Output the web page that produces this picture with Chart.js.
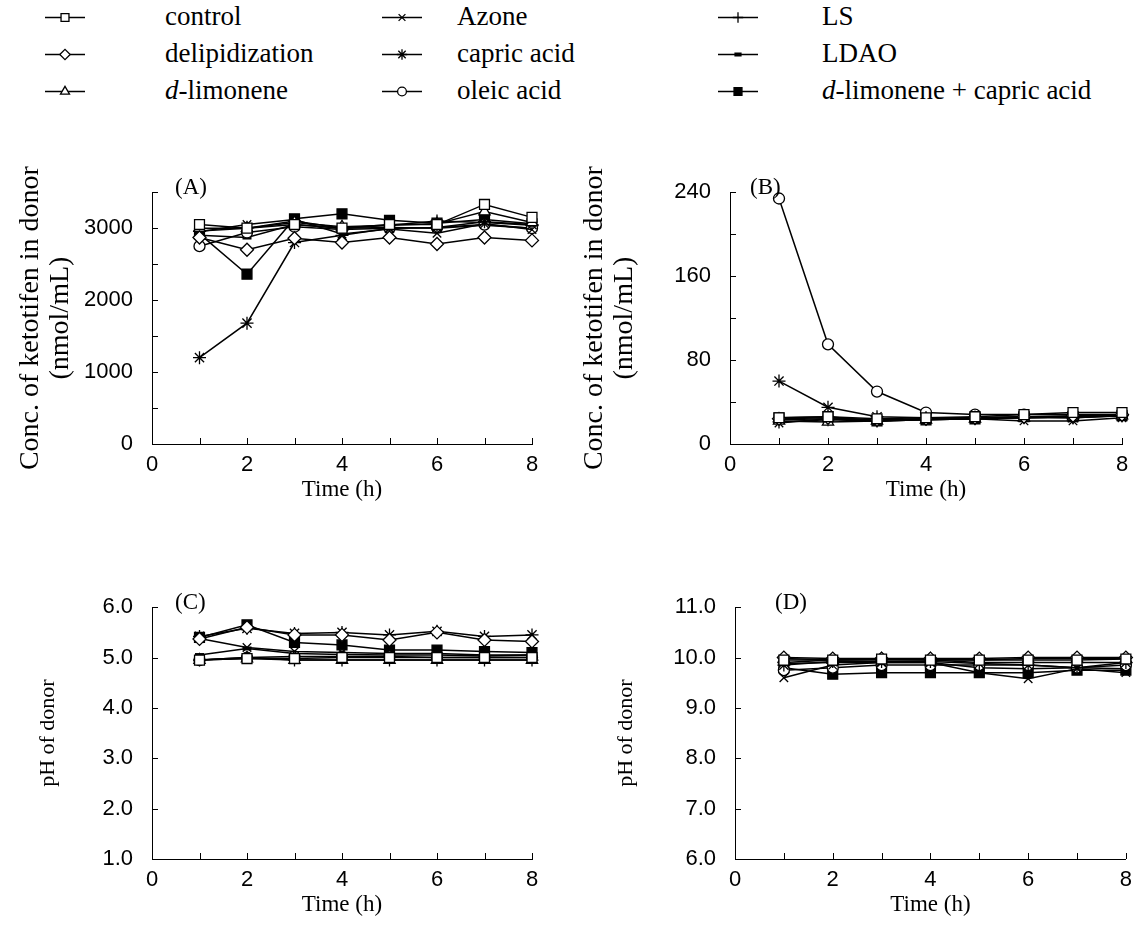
<!DOCTYPE html>
<html>
<head>
<meta charset="utf-8">
<script src="https://cdn.jsdelivr.net/npm/chart.js@4.4.0/dist/chart.umd.min.js"></script>
<style>
  body { margin: 0; background: #fff; width: 1140px; height: 942px; position: relative; overflow: hidden; font-family: "Liberation Serif", "Times New Roman", serif; }
  canvas { position: absolute; }
  .lbl { position: absolute; font-size: 27px; line-height: 27px; white-space: nowrap; }
</style>
</head>
<body>
<div id="legend"></div>
<canvas id="chartA" width="560" height="344" style="left:0;top:160px"></canvas>
<canvas id="chartB" width="570" height="344" style="left:570px;top:160px"></canvas>
<canvas id="chartC" width="560" height="344" style="left:0;top:575px"></canvas>
<canvas id="chartD" width="570" height="344" style="left:570px;top:575px"></canvas>
<script>
// sampling times (h)
const times = [1, 2, 3, 4, 5, 6, 7, 8];

// treatments, in legend order (column by column)
const treatments = ["control", "delipidization", "d-limonene", "Azone", "capric acid",
  "oleic acid", "LS", "LDAO", "d-limonene + capric acid"];

// (A) conc. of ketotifen in donor, nmol/mL, one row per treatment
const concA = [
  [3050, 3000, 3050, 3000, 3050, 3050, 3330, 3150],
  [2870, 2700, 2860, 2800, 2870, 2780, 2870, 2830],
  [3000, 3000, 3080, 3020, 3040, 3060, 3230, 3080],
  [2950, 3050, 3120, 2920, 2990, 2930, 3060, 2980],
  [1200, 1680, 2800, 2900, 3000, 3010, 3090, 3050],
  [2750, 2940, 3020, 2980, 3000, 3010, 3050, 3000],
  [2960, 3000, 3100, 3000, 3040, 3100, 3080, 3040],
  [2900, 2870, 3050, 3000, 3010, 3000, 3040, 3000],
  [2920, 2360, 3130, 3200, 3110, 3070, 3120, 3060]
];

// (B) conc. of ketotifen in donor, nmol/mL
const concB = [
  [25, 26, 24, 25, 26, 28, 30, 30],
  [24, 25, 23, 24, 25, 26, 27, 28],
  [22, 21, 22, 23, 24, 25, 26, 27],
  [20, 24, 22, 23, 24, 22, 22, 25],
  [60, 35, 26, 25, 25, 26, 25, 27],
  [234, 95, 50, 30, 28, 28, 28, 28],
  [21, 23, 22, 24, 24, 25, 25, 27],
  [23, 24, 22, 24, 24, 25, 26, 27],
  [25, 26, 22, 23, 24, 26, 26, 27]
];

// (C) pH of donor
const phC = [
  [4.95, 4.98, 4.98, 5.0, 5.0, 5.0, 5.0, 5.0],
  [5.37, 5.6, 5.45, 5.45, 5.35, 5.5, 5.35, 5.32],
  [4.95, 4.98, 4.95, 4.95, 4.95, 4.95, 4.95, 4.95],
  [5.38, 5.2, 5.12, 5.1, 5.08, 5.08, 5.05, 5.05],
  [5.42, 5.58, 5.48, 5.5, 5.45, 5.52, 5.42, 5.45],
  [4.95, 5.0, 5.02, 5.02, 5.02, 5.0, 5.0, 5.0],
  [4.95, 5.0, 4.95, 4.95, 4.95, 4.95, 4.95, 4.95],
  [5.05, 5.18, 5.08, 5.06, 5.05, 5.05, 5.03, 5.05],
  [5.4, 5.65, 5.3, 5.25, 5.15, 5.15, 5.12, 5.1]
];

// (D) pH of donor
const phD = [
  [9.95, 9.95, 9.97, 9.95, 9.95, 9.95, 9.95, 9.97],
  [10.0, 9.98, 9.98, 9.98, 9.98, 10.0, 10.0, 10.0],
  [9.98, 9.95, 9.97, 9.97, 9.95, 9.98, 9.98, 9.98],
  [9.6, 9.85, 9.9, 9.9, 9.7, 9.58, 9.78, 9.7],
  [9.85, 9.92, 9.92, 9.92, 9.88, 9.85, 9.8, 9.9],
  [9.75, 9.8, 9.85, 9.85, 9.85, 9.85, 9.8, 9.85],
  [9.9, 9.95, 9.95, 9.95, 9.9, 9.9, 9.9, 9.9],
  [9.88, 9.9, 9.9, 9.9, 9.8, 9.78, 9.8, 9.78],
  [9.8, 9.67, 9.7, 9.7, 9.7, 9.7, 9.75, 9.75]
];

// marker look per treatment
const markers = [
  { style: "rect", radius: 7, fill: "#fff" },
  { style: "rectRot", radius: 6.5, fill: "#fff" },
  { style: "triangle", radius: 6.5, fill: "#fff" },
  { style: "crossRot", radius: 6, fill: "#000" },
  { style: "star", radius: 6.5, fill: "#000" },
  { style: "circle", radius: 5.5, fill: "#fff" },
  { style: "cross", radius: 6.5, fill: "#000" },
  { style: "line", radius: 4.5, fill: "#000", bw: 4 },
  { style: "rect", radius: 7, fill: "#000" }
];

const serif = "'Liberation Serif', 'Times New Roman', serif";
const sans = "'Liberation Sans', Arial, sans-serif";

// tick marks pointing into the plot
const inwardTicks = {
  id: "inwardTicks",
  beforeDatasetsDraw(chart) {
    const ctx = chart.ctx, xs = chart.scales.x, ys = chart.scales.y;
    ctx.save();
    ctx.strokeStyle = "#000";
    ctx.lineWidth = 1;
    ctx.beginPath();
    xs.ticks.forEach(t => {
      const px = Math.round(xs.getPixelForValue(t.value)) + 0.5;
      ctx.moveTo(px, xs.top);
      ctx.lineTo(px, xs.top - 6);
    });
    ys.ticks.forEach(t => {
      const py = Math.round(ys.getPixelForValue(t.value)) + 0.5;
      ctx.moveTo(ys.right, py);
      ctx.lineTo(ys.right + 6, py);
    });
    ctx.stroke();
    ctx.restore();
  }
};

// (A), (B)... in the corner, and the rotated y title
const panelText = {
  id: "panelText",
  afterDraw(chart, args, opts) {
    const ctx = chart.ctx, area = chart.chartArea;
    ctx.save();
    ctx.fillStyle = "#000";
    ctx.textBaseline = "middle";
    ctx.font = "23px " + serif;
    ctx.fillText(opts.label, area.left + opts.labelDx, area.top - 4);
    ctx.font = opts.titleSize + "px " + serif;
    ctx.textAlign = "center";
    const yc = (area.top + area.bottom) / 2;
    opts.title.forEach((line, i) => {
      ctx.save();
      ctx.translate(opts.titleX[i], yc);
      ctx.rotate(-Math.PI / 2);
      ctx.fillText(line, 0, 0);
      ctx.restore();
    });
    ctx.restore();
  }
};

function makePanel(id, rows, cfg) {
  new Chart(document.getElementById(id), {
    type: "line",
    data: {
      datasets: rows.map((vals, i) => ({
        label: treatments[i],
        data: vals.map((v, k) => ({ x: times[k], y: v })),
        borderColor: "#000",
        borderWidth: 1.5,
        pointStyle: markers[i].style,
        pointRadius: markers[i].radius,
        pointBackgroundColor: markers[i].fill,
        pointBorderColor: "#000",
        pointBorderWidth: markers[i].bw || 1.3,
        tension: 0,
        clip: false
      }))
    },
    options: {
      responsive: false,
      animation: false,
      events: [],
      layout: { padding: { top: cfg.padTop, right: cfg.padRight, left: 0, bottom: 0 } },
      plugins: {
        legend: { display: false },
        tooltip: { enabled: false },
        panelText: { label: cfg.label, labelDx: cfg.labelDx, title: cfg.title, titleX: cfg.titleX, titleSize: cfg.titleSize }
      },
      scales: {
        x: {
          type: "linear",
          min: 0, max: 8,
          grid: { display: false, drawTicks: false },
          border: { display: true, color: "#000", width: 1 },
          ticks: {
            stepSize: 1, padding: 8, color: "#000",
            font: { family: sans, size: 22 },
            callback: v => (v % 2 === 0 ? v : "")
          },
          title: { display: true, text: "Time (h)", color: "#000", font: { family: serif, size: 23 }, padding: { top: 0, bottom: 0 } },
          afterFit: s => { s.height = 60; }
        },
        y: {
          min: cfg.min, max: cfg.max,
          grid: { display: false, drawTicks: false },
          border: { display: true, color: "#000", width: 1 },
          ticks: {
            stepSize: cfg.step, padding: 19, color: "#000",
            font: { family: sans, size: 22 },
            callback: cfg.tick
          },
          afterFit: s => { s.width = cfg.yWidth; }
        }
      }
    },
    plugins: [inwardTicks, panelText]
  });
}

const concTitle = ["Conc. of ketotifen in donor", "(nmol/mL)"];

makePanel("chartA", concA, {
  min: 0, max: 3500, step: 500, yWidth: 152, padTop: 30, padRight: 28,
  title: concTitle, titleX: [31, 61], titleSize: 28, label: "(A)", labelDx: 23,
  tick: v => (v % 1000 === 0 ? v : "")
});
makePanel("chartB", concB, {
  min: 0, max: 240, step: 40, yWidth: 160, padTop: 30, padRight: 18,
  title: concTitle, titleX: [25, 55], titleSize: 28, label: "(B)", labelDx: 20,
  tick: v => (v % 80 === 0 ? v : "")
});
makePanel("chartC", phC, {
  min: 1, max: 6, step: 0.5, yWidth: 152, padTop: 31, padRight: 28,
  title: ["pH of donor"], titleX: [48], titleSize: 22, label: "(C)", labelDx: 23,
  tick: v => (Math.abs(v - Math.round(v)) < 1e-6 ? v.toFixed(1) : "")
});
makePanel("chartD", phD, {
  min: 6, max: 11, step: 0.5, yWidth: 165, padTop: 31, padRight: 12,
  title: ["pH of donor"], titleX: [56], titleSize: 22, label: "(D)", labelDx: 40,
  tick: v => (Math.abs(v - Math.round(v)) < 1e-6 ? v.toFixed(1) : "")
});

// legend: 3 columns x 3 rows, line sample with marker
const legendCols = [{ line: 45, text: 165 }, { line: 382, text: 457 }, { line: 718, text: 822 }];
const legendRows = [17, 54, 91];
const legendBox = document.getElementById("legend");
treatments.forEach((name, i) => {
  const col = legendCols[Math.floor(i / 3)], top = legendRows[i % 3];
  const cv = document.createElement("canvas");
  cv.width = 54; cv.height = 24;
  cv.style.left = (col.line - 5) + "px";
  cv.style.top = (top - 12) + "px";
  legendBox.appendChild(cv);
  const ctx = cv.getContext("2d");
  ctx.strokeStyle = "#000";
  ctx.lineWidth = 1.5;
  ctx.beginPath();
  ctx.moveTo(5, 12.5); ctx.lineTo(45, 12.5);
  ctx.stroke();
  const m = markers[i];
  ctx.fillStyle = m.fill;
  ctx.lineWidth = m.bw || 1.3;
  Chart.helpers.drawPoint(ctx, { pointStyle: m.style, radius: m.radius * 0.8, borderWidth: m.bw || 1.3, rotation: 0 }, 25, 12.5);
  const t = document.createElement("div");
  t.className = "lbl";
  t.style.left = col.text + "px";
  t.style.top = (top - 14) + "px";
  t.innerHTML = name.replace(/^d-/, "<i>d</i>-").replace("+ d-", "+ <i>d</i>-");
  legendBox.appendChild(t);
});
</script>
</body>
</html>
